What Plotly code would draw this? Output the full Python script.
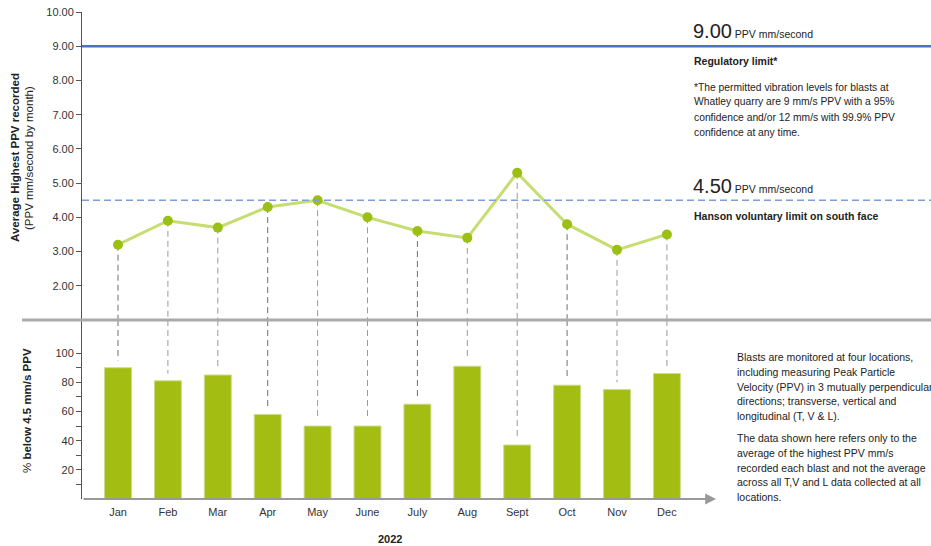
import plotly.graph_objects as go

months = ["Jan", "Feb", "Mar", "Apr", "May", "June", "July", "Aug", "Sept", "Oct", "Nov", "Dec"]
avg_ppv = [3.2, 3.9, 3.7, 4.3, 4.5, 4.0, 3.6, 3.4, 5.3, 3.8, 3.05, 3.5]
pct_below = [90, 81, 85, 58, 50, 50, 65, 91, 37, 78, 75, 86]
regulatory_limit = 9.0
voluntary_limit = 4.5
top_ticks = [2, 3, 4, 5, 6, 7, 8, 9, 10]
bottom_ticks = [20, 40, 60, 80, 100]
bottom_minor = [10, 30, 50, 70, 90]
year_label = "2022"

FONT = "Liberation Sans, Arial, sans-serif"
W, H = 931, 546
ML, MR, MT, MB = 82, 0, 12, 47
PH = H - MT - MB
split = (499 - 320) / PH
top_range = [1, 10]
bot_range = [0, 122.7]

fig = go.Figure()

fig.add_trace(go.Bar(
    x=months, y=pct_below, xaxis="x", yaxis="y2",
    marker=dict(color="#a3bd12", line=dict(color="#cddc8a", width=1)),
    width=0.54, showlegend=False, hoverinfo="x+y",
))
fig.add_trace(go.Scatter(
    x=months, y=avg_ppv, xaxis="x2", yaxis="y", mode="lines+markers",
    line=dict(color="#c6dd72", width=3),
    marker=dict(color="#9cbf14", size=10),
    showlegend=False, cliponaxis=False,
))

shapes = []
for i, (m, v, p) in enumerate(zip(months, avg_ppv, pct_below)):
    col = "#6f6f6f" if i % 3 == 0 else "#9a9a9a"
    shapes.append(dict(type="line", xref="x2", yref="y", x0=m, x1=m, y0=v, y1=top_range[0],
                       line=dict(color=col, width=1, dash="6px,4px"), layer="below"))
    shapes.append(dict(type="line", xref="x", yref="y2", x0=m, x1=m, y0=bot_range[1], y1=p + 5,
                       line=dict(color=col, width=1, dash="6px,4px"), layer="below"))
shapes.append(dict(type="line", xref="paper", yref="y", x0=0, x1=1,
                   y0=regulatory_limit, y1=regulatory_limit,
                   line=dict(color="#4a72c0", width=2.5)))
shapes.append(dict(type="line", xref="paper", yref="y", x0=0, x1=1,
                   y0=voluntary_limit, y1=voluntary_limit,
                   line=dict(color="#7f9dd6", width=1.5, dash="7px,4px")))
shapes.append(dict(type="line", xref="paper", yref="paper", x0=(22 - ML) / (W - ML - MR), x1=1,
                   y0=split, y1=split, line=dict(color="#aaaaaa", width=3)))

PW = W - ML - MR
dom_end = (713 - ML) / PW
x_rng = [-(118 - ML) / 49.9, (713 - 118) / 49.9]

def px_x(x):
    return (x - ML) / PW

def px_y(y):
    return (H - MB - y) / PH

anns = []
tc = "#222222"
anns.append(dict(xref="paper", yref="y2", x=px_x(716), y=0, ax=-(716 - ML), ay=0,
                 axref="pixel", ayref="pixel", showarrow=True, arrowhead=2, arrowsize=1.2,
                 arrowwidth=1.8, arrowcolor="#999999", text=""))
for xx, yy, t in [(15, 158, "<b>Average Highest PPV recorded</b>"),
                  (29, 158, "(PPV mm/second by month)"),
                  (27, 411, "% <b>below 4.5 mm/s PPV</b>")]:
    anns.append(dict(xref="paper", yref="paper", x=px_x(xx), y=px_y(yy), xanchor="center",
                     yanchor="middle", text=t, textangle=-90, showarrow=False,
                     font=dict(family=FONT, size=11.5, color=tc)))
anns.append(dict(xref="x", yref="paper", x=5.45, y=px_y(539), xanchor="center", yanchor="middle",
                 text="<b>" + year_label + "</b>", showarrow=False,
                 font=dict(family=FONT, size=11, color=tc)))

def txt(x_px, y_px, text, size=11):
    anns.append(dict(xref="paper", yref="paper", x=px_x(x_px), y=px_y(y_px),
                     xanchor="left", yanchor="middle", text=text, showarrow=False, align="left",
                     font=dict(family=FONT, size=size, color=tc)))

txt(691, 31, f"<span style='font-size:20px'>{regulatory_limit:.2f}</span> PPV mm/second", 10.5)
txt(692, 61, "<b>Regulatory limit*</b>", 10.5)
foot = ["*The permitted vibration levels for blasts at",
        "Whatley quarry are 9 mm/s PPV with a 95%",
        "confidence and/or 12 mm/s with 99.9% PPV",
        "confidence at any time."]
for i, l in enumerate(foot):
    txt(692, 87 + i * 15, l, 10.3)
txt(691, 186, f"<span style='font-size:20px'>{voluntary_limit:.2f}</span> PPV mm/second", 10.5)
txt(692, 216, "<b>Hanson voluntary limit on south face</b>", 10.5)

p1 = ["Blasts are monitored at four locations,",
      "including measuring Peak Particle",
      "Velocity (PPV) in 3 mutually perpendicular",
      "directions; transverse, vertical and",
      "longitudinal (T, V & L)."]
p2 = ["The data shown here refers only to the",
      "average of the highest PPV mm/s",
      "recorded each blast and not the average",
      "across all T,V and L data collected at all",
      "locations."]
for i, l in enumerate(p1):
    txt(735, 357 + i * 14.8, l, 10.5)
for i, l in enumerate(p2):
    txt(735, 438 + i * 14.8, l, 10.5)

fig.update_layout(
    width=W, height=H,
    margin=dict(l=ML, r=MR, t=MT, b=MB, autoexpand=False),
    plot_bgcolor="white", paper_bgcolor="white",
    font=dict(family=FONT, size=11, color="#333333"),
    showlegend=False,
    xaxis=dict(domain=[0, dom_end], range=x_rng, anchor="y2", showline=False, showgrid=False,
               zeroline=False, ticks="", ticklabelstandoff=5,
               tickfont=dict(size=11, color="#333333"),
               categoryorder="array", categoryarray=months),
    xaxis2=dict(domain=[0, dom_end], range=x_rng, anchor="y", overlaying="x", visible=False,
                matches="x"),
    yaxis=dict(domain=[split, 1], range=top_range, tickvals=top_ticks,
               ticktext=[f"{t:.2f}" for t in top_ticks], showline=True, linecolor="#555555",
               linewidth=1, ticks="outside", ticklen=5, tickcolor="#555555", showgrid=False,
               zeroline=False, tickfont=dict(size=11, color="#333333"), anchor="x"),
    yaxis2=dict(domain=[0, split], range=bot_range, tickvals=bottom_ticks, showline=True,
                linecolor="#555555", linewidth=1, ticks="outside", ticklen=5, tickcolor="#555555",
                showgrid=False, zeroline=False, tickfont=dict(size=11, color="#333333"),
                minor=dict(tickvals=bottom_minor, ticks="outside", ticklen=5, tickcolor="#555555"),
                anchor="x"),
    shapes=shapes, annotations=anns,
    bargap=0.46,
)

fig.write_html("out.html", config={"displayModeBar": False},
               post_script="document.body.style.margin='0';document.body.style.overflow='hidden';")
